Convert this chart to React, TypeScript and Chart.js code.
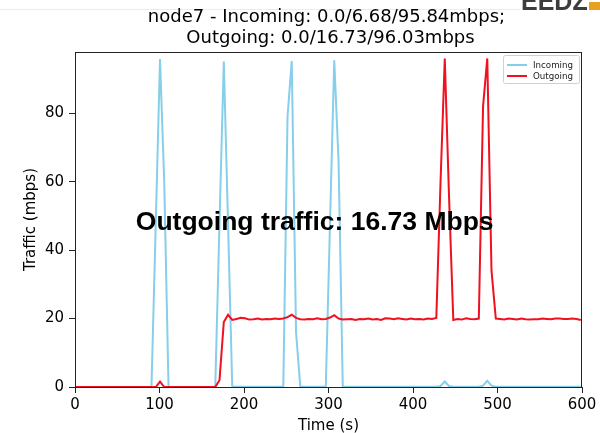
import React, { useEffect, useRef } from 'react';
import { Chart, registerables } from 'chart.js';

Chart.register(...registerables);

// ---- data ----
const times = [
  0, 5.0, 10.1, 15.1, 20.1, 25.2, 30.2, 35.2, 40.2, 45.3,
  50.3, 55.3, 60.4, 65.4, 70.4, 75.5, 80.5, 85.5, 90.5, 95.6,
  100.6, 105.6, 110.7, 115.7, 120.7, 125.8, 130.8, 135.8, 140.8, 145.9,
  150.9, 155.9, 161.0, 166.0, 171.0, 176.1, 181.1, 186.1, 191.1, 196.2,
  201.2, 206.2, 211.3, 216.3, 221.3, 226.4, 231.4, 236.4, 241.4, 246.5,
  251.5, 256.5, 261.6, 266.6, 271.6, 276.7, 281.7, 286.7, 291.7, 296.8,
  301.8, 306.8, 311.9, 316.9, 321.9, 327.0, 332.0, 337.0, 342.0, 347.1,
  352.1, 357.1, 362.2, 367.2, 372.2, 377.3, 382.3, 387.3, 392.3, 397.4,
  402.4, 407.4, 412.5, 417.5, 422.5, 427.6, 432.6, 437.6, 442.6, 447.7,
  452.7, 457.7, 462.8, 467.8, 472.8, 477.9, 482.9, 487.9, 492.9, 498.0,
  503.0, 508.0, 513.1, 518.1, 523.1, 528.2, 533.2, 538.2, 543.2, 548.3,
  553.3, 558.3, 563.4, 568.4, 573.4, 578.5, 583.5, 588.5, 593.5, 598.6,
];

const incoming = [
  0, 0, 0, 0, 0, 0, 0, 0, 0, 0,
  0, 0, 0, 0, 0, 0, 0, 0, 0, 48,
  95.84, 60, 0, 0, 0, 0, 0, 0, 0, 0,
  0, 0, 0, 0, 48, 95.1, 48, 0.1, 0.1, 0.1,
  0.1, 0.1, 0.1, 0.1, 0.1, 0.1, 0.1, 0.1, 0.1, 0.1,
  79, 95.3, 16, 0.1, 0.1, 0.1, 0.1, 0.1, 0.1, 0.1,
  48, 95.5, 66, 0.1, 0.1, 0.1, 0.1, 0.1, 0.1, 0.1,
  0.1, 0.1, 0.1, 0.1, 0.1, 0.1, 0.1, 0.1, 0.1, 0.1,
  0.1, 0.1, 0.1, 0.1, 0.1, 0.1, 0.3, 1.6, 0.3, 0.1,
  0.1, 0.1, 0.1, 0.1, 0.1, 0.1, 0.4, 1.8, 0.4, 0.1,
  0.1, 0.1, 0.1, 0.1, 0.1, 0.1, 0.1, 0.1, 0.1, 0.1,
  0.1, 0.1, 0.1, 0.1, 0.1, 0.1, 0.1, 0.1, 0.1, 0.1,
];

const outgoing = [
  0, 0, 0, 0, 0, 0, 0, 0, 0, 0,
  0, 0, 0, 0, 0, 0, 0, 0, 0, 0,
  1.6, 0, 0, 0, 0, 0, 0, 0, 0, 0,
  0, 0, 0, 0, 2, 19, 21.1, 19.6, 19.9, 20.2,
  20.1, 19.7, 19.8, 20.0, 19.7, 19.9, 19.8, 20.0, 19.9, 20.0,
  20.4, 21.1, 20.2, 19.8, 19.7, 19.9, 19.8, 20.1, 19.8, 19.9,
  20.3, 21.0, 20.0, 19.7, 19.8, 19.9, 19.6, 19.9, 19.8, 20.0,
  19.7, 19.9, 19.6, 20.1, 20.0, 19.8, 20.1, 19.9, 19.7, 20.0,
  19.8, 19.9, 19.7, 20.0, 19.9, 20.2, 60, 96, 56, 19.6,
  19.9, 19.7, 20.1, 19.9, 19.8, 20.0, 82, 96.03, 34, 20.0,
  19.9, 19.7, 20.0, 19.9, 19.7, 20.0, 19.8, 19.7, 19.8, 19.8,
  20.0, 19.9, 19.8, 20.0, 20.0, 19.9, 19.9, 20.0, 19.9, 19.6,
];

const xTicks = [0, 100, 200, 300, 400, 500, 600];
const yTicks = [0, 20, 40, 60, 80];
const seriesLabels = ['Incoming', 'Outgoing'];
const seriesColors = ['#87CEEB', '#F01020'];
const titleLines = ['node7 - Incoming: 0.0/6.68/95.84mbps;', 'Outgoing: 0.0/16.73/96.03mbps'];
const xLabel = 'Time (s)';
const yLabel = 'Traffic (mbps)';
const annotationText = 'Outgoing traffic: 16.73 Mbps';
const logoText = 'EEDZ';

const FONT = '"DejaVu Sans", sans-serif';

const decorPlugin = {
  id: 'decor',
  afterDraw(chart: any) {
    const { ctx, chartArea: a } = chart;
    ctx.save();

    // faint top line + logo fragment
    ctx.strokeStyle = '#ececec';
    ctx.lineWidth = 1;
    ctx.beginPath();
    ctx.moveTo(0, 9.5);
    ctx.lineTo(520, 9.5);
    ctx.stroke();
    ctx.fillStyle = '#3d3d3d';
    ctx.font = 'bold 25px "Liberation Sans", sans-serif';
    ctx.textAlign = 'left';
    ctx.textBaseline = 'alphabetic';
    ctx.fillText(logoText, 521, 9.5);
    ctx.fillStyle = '#e8a020';
    ctx.fillRect(589, 2, 11, 8);

    // frame
    ctx.strokeStyle = '#222';
    ctx.lineWidth = 1;
    ctx.strokeRect(a.left + 0.5, a.top + 0.5, a.right - a.left - 1, a.bottom - a.top);

    // title
    ctx.fillStyle = '#000';
    ctx.font = `18px ${FONT}`;
    ctx.textAlign = 'center';
    ctx.textBaseline = 'alphabetic';
    const cx = (a.left + a.right) / 2;
    ctx.fillText(titleLines[0], cx - 2, 22);
    ctx.fillText(titleLines[1], cx + 2, 43);

    // axis labels
    ctx.font = `15px ${FONT}`;
    ctx.fillText(xLabel, cx, 430);
    ctx.save();
    ctx.translate(31, (a.top + a.bottom) / 2);
    ctx.rotate(-Math.PI / 2);
    ctx.textBaseline = 'middle';
    ctx.fillText(yLabel, 0, 0);
    ctx.restore();

    // legend
    const lx = 503.5, ly = 55.5, lw = 76, lh = 28;
    ctx.fillStyle = 'rgba(255,255,255,0.85)';
    ctx.strokeStyle = '#d0d0d0';
    ctx.lineWidth = 1;
    ctx.beginPath();
    ctx.roundRect(lx, ly, lw, lh, 2);
    ctx.fill();
    ctx.stroke();
    ctx.font = `8.7px ${FONT}`;
    ctx.textAlign = 'left';
    ctx.textBaseline = 'middle';
    seriesLabels.forEach((lab, i) => {
      const y = 65 + i * 11;
      ctx.strokeStyle = seriesColors[i];
      ctx.lineWidth = 2;
      ctx.beginPath();
      ctx.moveTo(507, y);
      ctx.lineTo(527, y);
      ctx.stroke();
      ctx.fillStyle = '#222';
      ctx.fillText(lab, 533, y + 0.5);
    });

    // annotation
    ctx.fillStyle = '#000';
    ctx.font = 'bold 26.5px "Liberation Sans", Arial, sans-serif';
    ctx.textAlign = 'center';
    ctx.textBaseline = 'alphabetic';
    ctx.fillText(annotationText, 314.7, 229.5);

    ctx.restore();
  },
};

export default function App() {
  const ref = useRef<HTMLCanvasElement | null>(null);

  useEffect(() => {
    if (!ref.current) return;
    const series = [incoming, outgoing];
    const chart = new Chart(ref.current, {
      type: 'line',
      data: {
        datasets: series.map((vals, i) => ({
          label: seriesLabels[i],
          data: times.map((t, j) => ({ x: t, y: vals[j] })),
          borderColor: seriesColors[i],
          backgroundColor: seriesColors[i],
          borderWidth: 2,
          pointRadius: 0,
          tension: 0,
          fill: false,
          order: i === 0 ? 2 : 1,
        })),
      },
      options: {
        animation: false,
        responsive: false,
        devicePixelRatio: 1,
        events: [],
        layout: { padding: { top: 52, right: 18, left: 0, bottom: 0 } },
        plugins: {
          legend: { display: false },
          tooltip: { enabled: false },
          title: { display: false },
        },
        scales: {
          x: {
            type: 'linear',
            min: 0,
            max: 600,
            afterBuildTicks: (s: any) => {
              s.ticks = xTicks.map((v) => ({ value: v }));
            },
            afterFit: (s: any) => {
              s.height = 46;
            },
            border: { display: false },
            grid: { drawOnChartArea: false, drawTicks: true, tickLength: 6, color: '#222' },
            ticks: {
              color: '#000',
              font: { family: FONT, size: 15 },
              padding: 3,
              maxRotation: 0,
            },
          },
          y: {
            type: 'linear',
            min: 0,
            max: 97.9,
            afterBuildTicks: (s: any) => {
              s.ticks = yTicks.map((v) => ({ value: v }));
            },
            afterFit: (s: any) => {
              s.width = 75;
            },
            border: { display: false },
            grid: { drawOnChartArea: false, drawTicks: true, tickLength: 6, color: '#222' },
            ticks: {
              color: '#000',
              font: { family: FONT, size: 15 },
              padding: 5,
            },
          },
        },
      },
      plugins: [decorPlugin],
    });
    return () => chart.destroy();
  }, []);

  return (
    <div style={{ position: 'fixed', left: 0, top: 0, width: 600, height: 433, background: '#fff' }}>
      <canvas ref={ref} width={600} height={433} style={{ display: 'block', width: 600, height: 433 }} />
    </div>
  );
}
